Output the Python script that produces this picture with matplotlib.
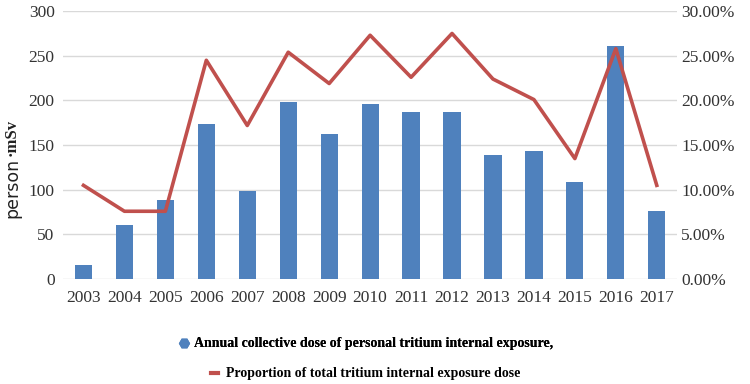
import matplotlib
matplotlib.use("Agg")
import matplotlib.pyplot as plt
from matplotlib.lines import Line2D
from matplotlib.ticker import FuncFormatter, MultipleLocator

years = ["2003", "2004", "2005", "2006", "2007", "2008", "2009", "2010",
         "2011", "2012", "2013", "2014", "2015", "2016", "2017"]
dose = [16, 61, 89, 174, 99, 198, 163, 196, 187, 187, 139, 144, 109, 261, 76]
proportion = [10.5, 7.6, 7.6, 24.5, 17.2, 25.4, 21.9, 27.3, 22.6, 27.5,
              22.4, 20.1, 13.5, 25.8, 10.5]

bar_color = "#4F81BD"
line_color = "#C0504D"
serif = ["Liberation Serif", "DejaVu Serif"]

fig = plt.figure(figsize=(7.5, 3.84), dpi=100)
ax = fig.add_axes([0.084, 0.273, 0.819, 0.698])
x = list(range(len(years)))
ax.bar(x, dose, width=0.42, color=bar_color, zorder=2)
ax.set_ylim(0, 300)
ax.set_xlim(-0.5, len(years) - 0.5)
ax.yaxis.set_major_locator(MultipleLocator(50))
ax.set_xticks(x)
ax.set_xticklabels(years)
ax.grid(axis="y", color="#D9D9D9", linewidth=1, zorder=0)
for s in ax.spines.values():
    s.set_visible(False)
ax.tick_params(axis="both", length=0, labelsize=12.5, colors="#333333")
ax.tick_params(axis="x", pad=8)
ax.tick_params(axis="y", pad=6)
for lab in ax.get_xticklabels() + ax.get_yticklabels():
    lab.set_family(serif)

ax2 = ax.twinx()
ax2.plot(x, proportion, color=line_color, linewidth=2.6, zorder=3)
ax2.set_ylim(0, 30)
ax2.yaxis.set_major_locator(MultipleLocator(5))
ax2.yaxis.set_major_formatter(FuncFormatter(lambda v, p: f"{v:.2f}%"))
for s in ax2.spines.values():
    s.set_visible(False)
ax2.tick_params(axis="y", length=0, labelsize=12.5, colors="#333333", pad=3)
for lab in ax2.get_yticklabels():
    lab.set_family(serif)

fig.text(0.016, 1 - 188 / 384, "person", rotation=90,
         ha="center", va="center", fontsize=12.5, family="DejaVu Sans",
         color="#222222")
fig.text(0.016, 1 - 137 / 384, "·mSv", rotation=90,
         ha="center", va="center", fontsize=12, family=serif,
         weight="bold", color="#222222")

h1 = Line2D([], [], marker="H", color=bar_color, linestyle="none", markersize=7)
h2 = Line2D([], [], color=line_color, linewidth=3)
leg1 = fig.legend([h1], ["Annual collective dose of personal tritium internal exposure,"],
                  loc="center", bbox_to_anchor=(366 / 750, 1 - 344 / 384),
                  frameon=False, handlelength=0.8, handletextpad=0.3,
                  prop={"family": serif, "weight": "bold", "size": 10})
fig.add_artist(leg1)
leg2 = fig.legend([h2], ["Proportion of total tritium internal exposure dose"],
                  loc="center", bbox_to_anchor=(366 / 750, 1 - 374 / 384),
                  frameon=False, handlelength=0.5, handletextpad=0.6,
                  prop={"family": serif, "weight": "bold", "size": 10})

fig.savefig("out.png", dpi=100)
